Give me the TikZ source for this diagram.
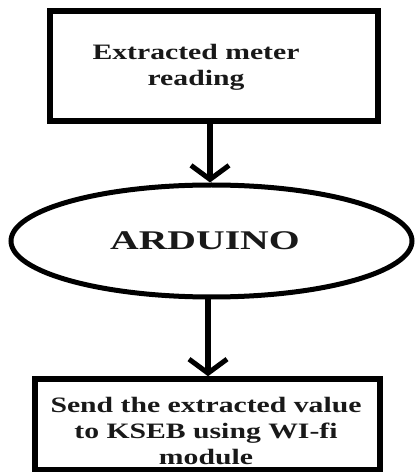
\documentclass[tikz,border=0pt]{standalone}
\usepackage{fontspec}
\setmainfont{Liberation Serif}
\newfontfamily\boxfont{Liberation Serif}[FakeStretch=1.35]
\newfontfamily\ardfont{Liberation Serif}[FakeStretch=1.47]
\usetikzlibrary{arrows.meta,shapes.geometric}
\tikzset{
  boxshape/.style={draw=black, line width=5.5pt, rectangle, inner sep=0pt},
  ellshape/.style={draw=black, line width=5pt, ellipse, inner sep=0pt},
  boxtext/.style={align=center, inner sep=0pt, font=\boxfont\bfseries\fontsize{22}{26}\selectfont, text=black!90},
  ardtext/.style={inner sep=0pt, font=\ardfont\bfseries\fontsize{27}{30}\selectfont, text=black!90},
  arr/.style={line width=6pt, -{Straight Barb[length=14pt,width=38pt,line width=5pt]}}
}
\begin{document}
\begin{tikzpicture}[x=1pt,y=1pt]
\useasboundingbox[fill=white] (0,0) rectangle (415,472);
\node[boxshape, minimum width=328pt, minimum height=110pt] (top) at (214,406) {};
\node[boxtext, anchor=north] (toptext) at (196,428) {Extracted meter\\reading};
\node[ellshape, minimum width=401pt, minimum height=112pt] (ell) at (211.5,231) {};
\node[ardtext] (ardtext) at (205,231) {ARDUINO};
\node[boxshape, minimum width=345pt, minimum height=91pt] (bot) at (207.5,47.5) {};
\node[boxtext, anchor=north] (bottext) at (206,75) {Send the extracted value\\to KSEB using WI-fi\\module};
\draw[arr] ([xshift=-4pt]top.south) -- ([xshift=-1.5pt]ell.north);
\draw[arr] ([xshift=-3.5pt]ell.south) -- ([xshift=0.5pt]bot.north);
\end{tikzpicture}
\end{document}
